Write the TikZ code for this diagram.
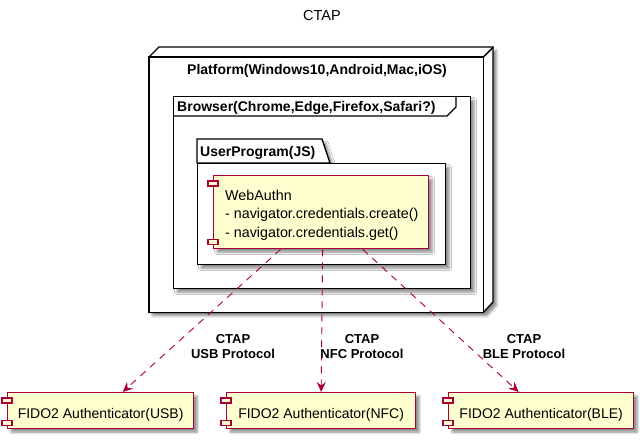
\documentclass[tikz,border=0pt]{standalone}
\usepackage{fontspec}
\setmainfont{Liberation Sans}
\usetikzlibrary{arrows.meta,shadows.blur}
\definecolor{compfill}{HTML}{FEFECE}
\definecolor{compline}{HTML}{A80036}
\tikzset{
  shad/.style={blur shadow={shadow xshift=3.5pt,shadow yshift=-3.5pt,shadow opacity=45,shadow blur radius=2.5pt,shadow blur steps=5}},
  boxline/.style={draw=black,line width=1.3pt},
  contbox/.style={boxline,fill=white,inner sep=0pt,anchor=north west},
  comp/.style={draw=compline,fill=compfill,line width=1.3pt,shad,inner sep=0pt,anchor=north west,
    font=\fontsize{14}{17}\selectfont,text height=15pt,text depth=0pt},
  tabrect/.style={draw=compline,fill=compfill,line width=1.1pt},
  dep/.style={draw=compline,line width=0.9pt,dash pattern=on 7pt off 6pt,
    -{Stealth[length=10pt,width=9pt,inset=3.5pt]}},
  lbl/.style={font=\fontsize{13}{15}\selectfont\bfseries,align=center,inner sep=0pt,anchor=north},
  txt/.style={font=\fontsize{14.3}{18.3}\selectfont,inner sep=0pt},
  btitle/.style={font=\fontsize{14}{17}\selectfont\bfseries,inner sep=0pt,anchor=base west},
}
\begin{document}
\begin{tikzpicture}[x=1pt,y=-1pt]
\useasboundingbox (0,0) rectangle (644,440);

% title
\node[font=\fontsize{14.5}{17}\selectfont,inner sep=0pt,anchor=base] (title) at (322,20.5) {CTAP};

% platform node (3D box)
\path node[inner sep=0pt,anchor=north west,minimum width=334pt,minimum height=255pt] (plat) at (149,57) {};
\draw[boxline,fill=white,shad] (plat.north west) -- ++(10,-10) -- ++(334,0) -- ++(0,255)
  -- (plat.south east) -- (plat.south west) -- cycle;
\draw[boxline,fill=white] (plat.north west) rectangle (plat.south east);
\draw[boxline] (plat.north east) -- ++(10,-10);
\node[font=\fontsize{14}{17}\selectfont\bfseries,inner sep=0pt,anchor=base] (platlbl) at (317,74.5)
  {Platform(Windows10,Android,Mac,iOS)};

% browser frame
\node[contbox,shad,minimum width=297pt,minimum height=192pt] (frm) at (173,96) {};
\draw[boxline] ([yshift=-20pt]frm.north west) -- ++(274,0) -- ++(9,-9) -- ++(0,-11);
\node[btitle] (frmlbl) at (177,111) {Browser(Chrome,Edge,Firefox,Safari?)};

% user program package
\draw[boxline,fill=white,shad] (197,163) -- (197,139) -- (322,139) -- (330,163) -- cycle;
\node[contbox,shad,minimum width=248pt,minimum height=101pt] (pkg) at (197,163) {};
\node[btitle] (pkglbl) at (200,156.5) {UserProgram(JS)};

% WebAuthn component
\node[comp,minimum width=215pt,minimum height=73pt] (web) at (213,175) {};
\draw[tabrect] ([xshift=-5pt,yshift=-6pt]web.north west) rectangle ++(10,5);
\draw[tabrect] ([xshift=-5pt,yshift=5pt]web.south west) rectangle ++(10,-5);
\node[txt,align=left,anchor=north west] (webtxt) at (225,190)
  {WebAuthn\\- navigator.credentials.create()\\- navigator.credentials.get()};

% authenticators
\node[comp,minimum width=186pt,minimum height=36pt] (usb) at (7,392) {FIDO2 Authenticator(USB)};
\node[comp,minimum width=189pt,minimum height=36pt] (nfc) at (226,392) {FIDO2 Authenticator(NFC)};
\node[comp,minimum width=185pt,minimum height=36pt] (ble) at (448,392) {FIDO2 Authenticator(BLE)};
\foreach \n in {usb,nfc,ble}{
  \draw[tabrect] ([xshift=-5pt,yshift=-6pt]\n.north west) rectangle ++(10,5);
  \draw[tabrect] ([xshift=-5pt,yshift=4pt]\n.south west) rectangle ++(10,-5);
}

% dependencies
\draw[dep] ([xshift=-40.5pt]web.south) -- ([xshift=22pt]usb.north);
\draw[dep] ([xshift=1.5pt]web.south) -- (nfc.north);
\draw[dep] ([xshift=41.5pt]web.south) -- ([xshift=-22.5pt]ble.north);

% labels
\node[lbl] (l1) at (233,334) {CTAP\\USB Protocol};
\node[lbl] (l2) at (362,334) {CTAP\\NFC Protocol};
\node[lbl] (l3) at (524,334) {CTAP\\BLE Protocol};
\end{tikzpicture}
\end{document}
